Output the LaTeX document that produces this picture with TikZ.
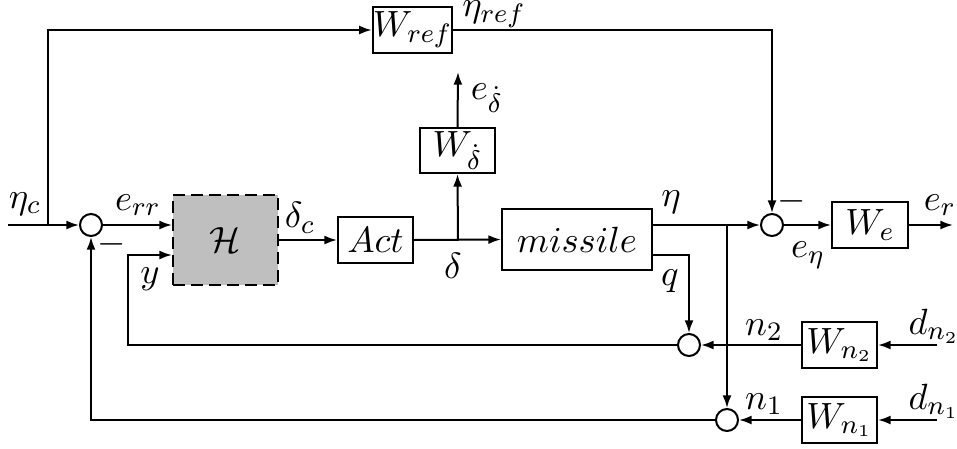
\documentclass[tikz,border=0pt]{standalone}
\usetikzlibrary{arrows.meta}
\begin{document}
\begin{tikzpicture}[x=0.3pt,y=-0.3pt,
  every node/.style={font=\fontsize{11}{13}\selectfont},
  line/.style={line width=0.6pt},
  arr/.style={line, -{Latex[length=3.8pt,width=2.7pt]}},
  blk/.style={draw, line width=0.6pt, inner sep=0pt, minimum width=22.5pt, minimum height=13.8pt},
  sumnode/.style={draw, circle, line width=0.6pt, inner sep=0pt, minimum size=6.6pt},
  lbl/.style={inner sep=0pt}]
\useasboundingbox (0,0) rectangle (957,448);
% blocks
\node[blk] (Wref) at (412.5,30) {$W_{ref}$};
\node[blk, minimum height=13.5pt] (Wdd) at (457.5,150.5) {$W_{\dot\delta}$};
\node[blk, fill=black!25, dash pattern=on 3.6pt off 1.8pt, minimum width=31.5pt, minimum height=27pt] (H) at (225.5,240) {$\mathcal{H}$};
\node[blk] (Act) at (375.5,240) {$Act$};
\node[blk, minimum width=45pt, minimum height=18.3pt] (mis) at (577,239.5) {$missile$};
\node[blk, minimum width=22.8pt] (We) at (870,225) {$W_e$};
\node[blk] (Wn2) at (839.5,345) {$W_{n_2}$};
\node[blk] (Wn1) at (839.5,420) {$W_{n_1}$};
% summing junctions
\node[sumnode] (s1) at (91,225) {};
\node[sumnode] (s2) at (772,225) {};
\node[sumnode] (s3) at (689,345) {};
\node[sumnode] (s4) at (727,420) {};
% coordinates
\coordinate (in) at (8,225);
\coordinate (j1) at (48,225);
\coordinate (jd) at (458,240);
\coordinate (edout) at (458,72);
\coordinate (eta) at (652,225);
\coordinate (jeta) at (727,225);
\coordinate (qout) at (652,255);
\coordinate (erout) at (953,225);
\coordinate (dn2) at (937,345);
\coordinate (dn1) at (937,420);
\coordinate (yc) at (128,345);
\coordinate (yin) at (128,255);
\coordinate (nc) at (91,420);
% connectors
\draw[arr] (in) -- (s1.west);
\draw[arr] (j1) |- (Wref.west);
\draw[arr] (Wref.east) -| (s2.north);
\draw[arr] (s1.east) -- (s1.east -| H.west);
\draw[arr] (H.east) -- (Act.west);
\draw[arr] (Act.east) -- (mis.west);
\draw[arr] (jd) -- (Wdd.south);
\draw[arr] (Wdd.north) -- (edout);
\draw[arr] (eta) -- (s2.west);
\draw[arr] (jeta) -- (s4.north);
\draw[arr] (qout) -| (s3.north);
\draw[arr] (s2.east) -- (We.west);
\draw[arr] (We.east) -- (erout);
\draw[arr] (dn2) -- (Wn2.east);
\draw[arr] (Wn2.west) -- (s3.east);
\draw[arr] (dn1) -- (Wn1.east);
\draw[arr] (Wn1.west) -- (s4.east);
\draw[arr] (s3.west) -- (yc) -- (yin) -- (yin -| H.west);
\draw[arr] (s4.west) -- (nc) -- (s1.south);
% labels
\node[lbl] (l_etac) at (25,204) {$\eta_c$};
\node[lbl] (l_err) at (138,205) {$e_{rr}$};
\node[lbl] (l_dc) at (300,218) {$\delta_c$};
\node[lbl] (l_m1) at (112,244) {$-$};
\node[lbl] (l_y) at (150,279) {$y$};
\node[lbl] (l_d) at (453,266) {$\delta$};
\node[lbl] (l_ed) at (487,98) {$e_{\dot\delta}$};
\node[lbl] (l_etaref) at (494,14) {$\eta_{ref}$};
\node[lbl] (l_eta) at (671,202) {$\eta$};
\node[lbl] (l_m2) at (792,201) {$-$};
\node[lbl] (l_er) at (940,205) {$e_r$};
\node[lbl] (l_eeta) at (808,255) {$e_\eta$};
\node[lbl] (l_q) at (670,281) {$q$};
\node[lbl] (l_n2) at (764,330) {$n_2$};
\node[lbl] (l_n1) at (764,404) {$n_1$};
\node[lbl] (l_dn2) at (934,326) {$d_{n_2}$};
\node[lbl] (l_dn1) at (934,401) {$d_{n_1}$};
\end{tikzpicture}
\end{document}
